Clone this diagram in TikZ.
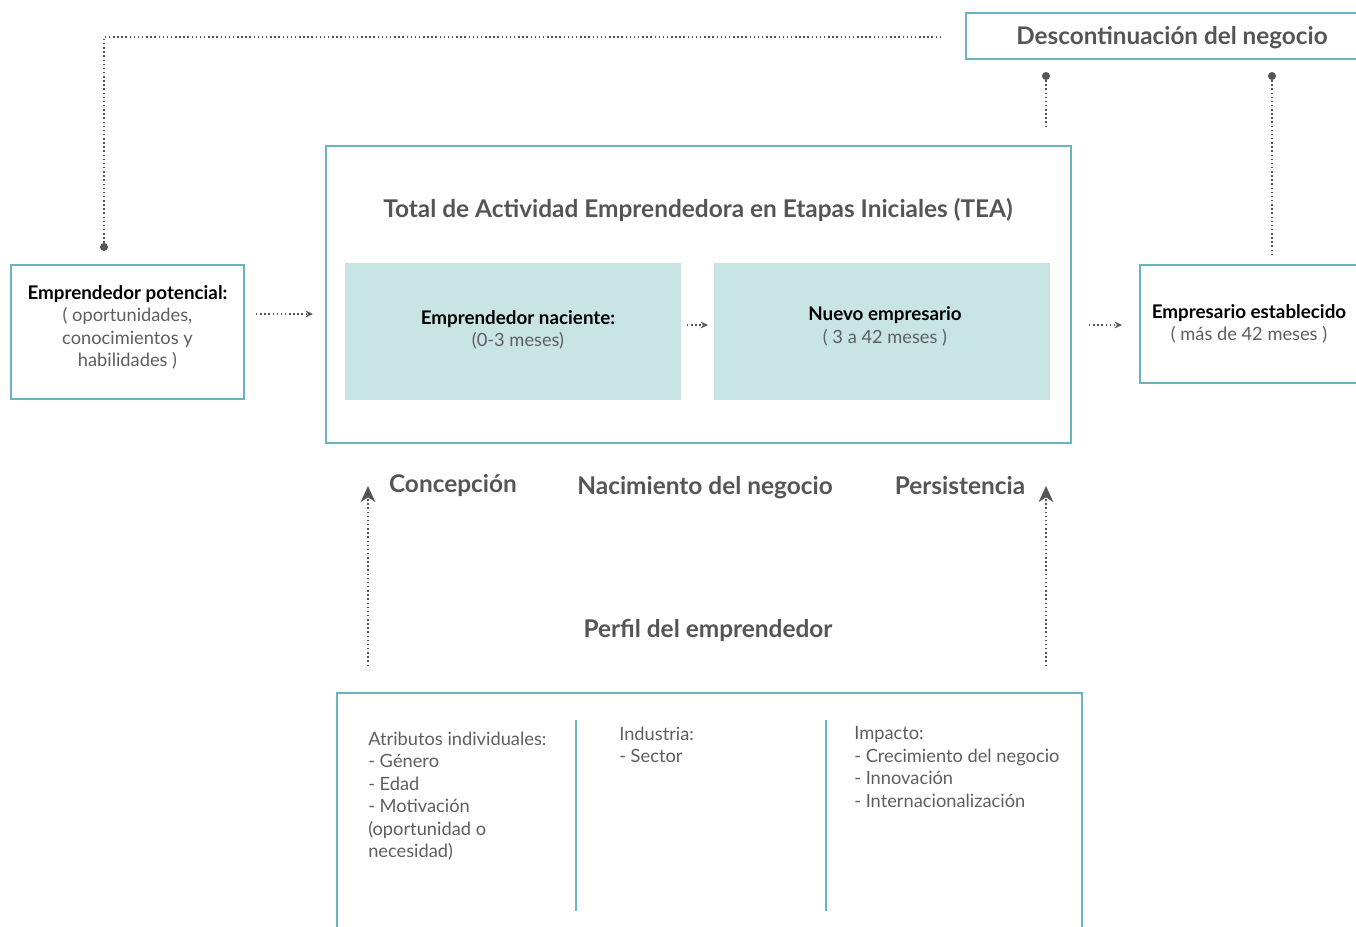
\documentclass[tikz,border=0pt]{standalone}
\usepackage{fontspec}
\setmainfont{Lato}
\usetikzlibrary{arrows.meta}
\definecolor{frameteal}{HTML}{6AB4BE}
\definecolor{paleteal}{HTML}{C9E5E3}
\definecolor{txtgray}{HTML}{555555}
\definecolor{bodygray}{HTML}{5E5E5E}
\definecolor{linegray}{HTML}{555555}
\tikzset{
  frame/.style={draw=frameteal, line width=2.2pt},
  pale/.style={fill=paleteal, draw=none},
  heading/.style={text=txtgray, font=\fontsize{18.3}{21}\selectfont\bfseries},
  boldlbl/.style={text=black, font=\fontsize{14.1}{16.5}\selectfont\bfseries},
  body/.style={text=bodygray, font=\fontsize{13.7}{16.9}\selectfont},
  dotline/.style={draw=linegray, line width=1.1pt, dotted},
  smallarrow/.style={dotline, -{Stealth[length=5.5pt,width=5pt]}},
  bigarrow/.style={dotline, -{Stealth[length=12pt,width=11pt,inset=3.5pt]}},
  dotend/.style={circle, fill=linegray, inner sep=0pt, minimum size=6pt},
}
\begin{document}
\begin{tikzpicture}[x=0.75pt,y=-0.75pt]
\useasboundingbox (0,0) rectangle (1356,927);
\clip (0,0) rectangle (1356,927);
% boxes
\draw[frame] (966,13) rectangle (1362,59);
\node[heading, font=\fontsize{18.2}{21}\selectfont\bfseries] (disc) at (1172,37.5) {Descontinuación del negocio};
\draw[frame] (326,146) rectangle (1071,443);
\node[heading] (tea) at (698,209.5) {Total de Actividad Emprendedora en Etapas Iniciales (TEA)};
\node[pale, minimum width=336*0.75pt, minimum height=137*0.75pt] (nac) at (513,331.5) {};
\node[pale, minimum width=336*0.75pt, minimum height=137*0.75pt] (nuevo) at (882,331.5) {};
\node[boldlbl] at (518,319.5) {Emprendedor naciente:};
\node[body] at (518,341) {(0-3 meses)};
\node[boldlbl] at (885,315.5) {Nuevo empresario};
\node[body] at (885,338) {( 3 a 42 meses )};
\node[frame, minimum width=233*0.75pt, minimum height=134*0.75pt, inner sep=0pt] (pot) at (127.5,332) {};
\node[boldlbl] at (127.5,294.5) {Emprendedor potencial:};
\node[body, align=center] at (127.5,338.5) {( oportunidades,\\conocimientos y\\habilidades )};
\draw[frame] (1140,265) rectangle (1362,383);
\coordinate (est) at (1140,324);
\node[boldlbl] at (1249,313.5) {Empresario establecido};
\node[body] at (1249,335) {( más de 42 meses )};
% stage labels
\node[heading] (conc) at (453,485.5) {Concepción};
\node[heading] (nacneg) at (705,487.5) {Nacimiento del negocio};
\node[heading] (pers) at (960,485.5) {Persistencia};
\node[heading] (perfil) at (708,630.5) {Perfil del emprendedor};
% bottom box
\draw[frame] (337,693) rectangle (1082,940);
\draw[frame] (576,720) -- (576,911);
\draw[frame] (826,720) -- (826,911);
\node[body, align=left, anchor=north west, inner sep=0pt] (attr) at (368,731.5) {Atributos individuales:\\- Género\\- Edad\\- Motivación\\(oportunidad o\\necesidad)};
\node[body, align=left, anchor=north west, inner sep=0pt] (ind) at (619,726.5) {Industria:\\- Sector};
\node[body, align=left, anchor=north west, inner sep=0pt] (imp) at (854,726.5) {Impacto:\\- Crecimiento del negocio\\- Innovación\\- Internacionalización};
% connectors
\coordinate (d1) at (104,247);
\coordinate (d1top) at (104,37);
\coordinate (d1end) at (942,37);
\draw[dotline] (d1) -- (d1top) -- (d1end);
\node[dotend] at (d1) {};
\coordinate (d2) at (1046,76);
\coordinate (d2b) at (1046,128);
\draw[dotline] (d2) -- (d2b);
\node[dotend] at (d2) {};
\coordinate (d3) at (1272,76);
\coordinate (d3b) at (1272,255);
\draw[dotline] (d3) -- (d3b);
\node[dotend] at (d3) {};
\coordinate (a1s) at (256,314);
\coordinate (a1e) at (313,314);
\draw[smallarrow] (a1s) -- (a1e);
\coordinate (a2s) at (687,325);
\coordinate (a2e) at (708,325);
\draw[smallarrow] (a2s) -- (a2e);
\coordinate (a3s) at (1089,325);
\coordinate (a3e) at (1122,325);
\draw[smallarrow] (a3s) -- (a3e);
\coordinate (u1s) at (368,666);
\coordinate (u1e) at (368,486);
\draw[bigarrow] (u1s) -- (u1e);
\coordinate (u2s) at (1046,666);
\coordinate (u2e) at (1046,486);
\draw[bigarrow] (u2s) -- (u2e);
\end{tikzpicture}
\end{document}
